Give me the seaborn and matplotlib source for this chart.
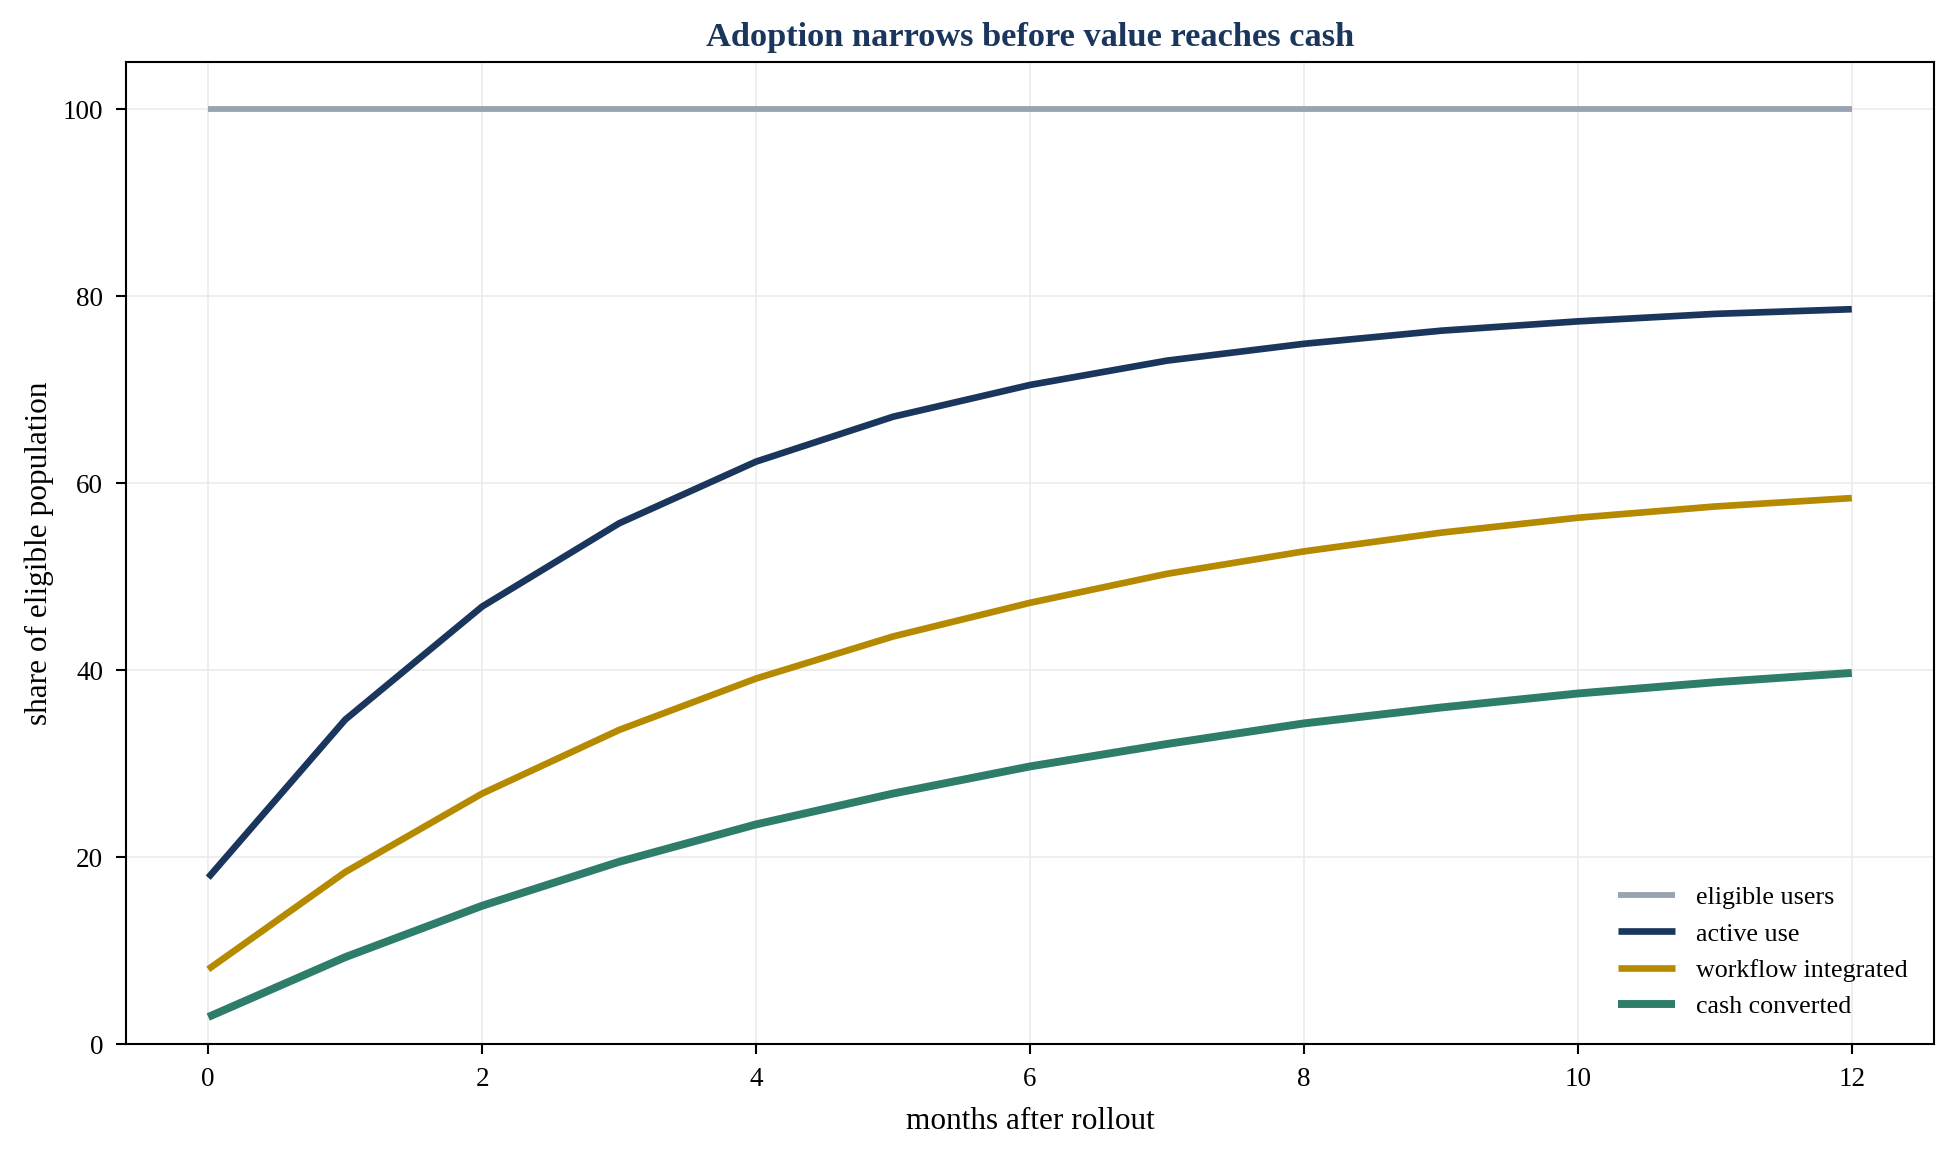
import numpy as np
import pandas as pd
import matplotlib
matplotlib.use("Agg")
import matplotlib.pyplot as plt
import seaborn as sns

# values
months = list(range(13))
eligible_users = [100] * 13
active_use = [17.8, 34.7, 46.8, 55.7, 62.3, 67.1, 70.5, 73.1, 74.9, 76.3, 77.3, 78.1, 78.6]
workflow_integrated = [8.0, 18.4, 26.8, 33.6, 39.1, 43.6, 47.2, 50.3, 52.7, 54.7, 56.3, 57.5, 58.4]
cash_converted = [2.9, 9.3, 14.8, 19.5, 23.5, 26.8, 29.7, 32.1, 34.3, 36.0, 37.5, 38.7, 39.7]

series_names = ["eligible users", "active use", "workflow integrated", "cash converted"]
series_colors = ["#98a4b0", "#1b365d", "#b58900", "#2e7d6b"]
series_widths = [2.8, 3.2, 3.2, 3.8]

df = pd.concat([
    pd.DataFrame({"month": months, "share": vals, "stage": name})
    for name, vals in zip(series_names,
                          [eligible_users, active_use, workflow_integrated, cash_converted])
])

sns.set_style("ticks")
plt.rcParams["font.family"] = ["Liberation Serif", "DejaVu Serif"]
plt.rcParams["text.color"] = "black"
plt.rcParams["axes.labelcolor"] = "black"

fig, ax = plt.subplots(figsize=(13.03, 7.7), dpi=150)
fig.subplots_adjust(left=0.0645, right=0.9895, top=0.946, bottom=0.096)

for name, color, lw in zip(series_names, series_colors, series_widths):
    sns.lineplot(data=df[df["stage"] == name], x="month", y="share",
                 color=color, linewidth=lw, label=name, ax=ax,
                 solid_capstyle="butt")

ax.set_ylim(0, 105)
ax.set_xlim(-0.6, 12.6)
ax.set_xticks([0, 2, 4, 6, 8, 10, 12])
ax.set_yticks([0, 20, 40, 60, 80, 100])
ax.grid(True, color="#ebebeb", linewidth=0.8)
for s in ax.spines.values():
    s.set_visible(True)
    s.set_color("black")
    s.set_linewidth(1.0)
ax.tick_params(axis="both", direction="out", length=5, width=1, colors="black",
               labelsize=13, pad=6)

ax.set_xlabel("months after rollout", fontsize=15, labelpad=7)
ax.set_ylabel("share of eligible population", fontsize=15, labelpad=4)
ax.set_title("Adoption narrows before value reaches cash", fontsize=16.5,
             fontweight="bold", color="#1b365d", pad=8)

leg = ax.legend(loc="lower right", frameon=False, fontsize=12.5,
                borderaxespad=0.6, handlelength=2.2)
for h in leg.get_lines():
    h.set_solid_capstyle("butt")

fig.savefig("out.png", dpi=150)
